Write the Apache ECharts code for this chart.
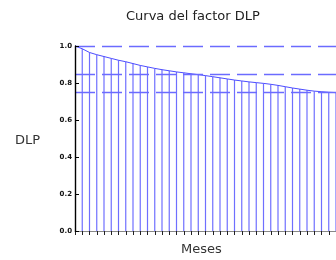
<!DOCTYPE html>
<html>
<head>
<meta charset="utf-8">
<script src="https://cdn.jsdelivr.net/npm/echarts@6/dist/echarts.min.js"></script>
<style>
  html, body { margin: 0; padding: 0; background: #fff; }
  #chart { width: 336px; height: 260px; }
</style>
</head>
<body>
<div id="chart"></div>
<script>
  // meses 0..36 y factor DLP
  var meses = [0, 1, 2, 3, 4, 5, 6, 7, 8, 9, 10, 11, 12, 13, 14, 15, 16, 17, 18,
    19, 20, 21, 22, 23, 24, 25, 26, 27, 28, 29, 30, 31, 32, 33, 34, 35, 36];
  var factorDLP = [1.0, 0.985, 0.965, 0.953, 0.943, 0.933, 0.923, 0.915, 0.905,
    0.895, 0.887, 0.879, 0.872, 0.866, 0.86, 0.855, 0.85, 0.845, 0.84, 0.834,
    0.828, 0.822, 0.816, 0.811, 0.806, 0.802, 0.798, 0.793, 0.787, 0.78, 0.773,
    0.767, 0.761, 0.756, 0.753, 0.75, 0.748];
  var limites = [1.0, 0.85, 0.75];
  var yTicks = [0, 0.2, 0.4, 0.6, 0.8, 1.0];

  var pares = meses.map(function (m, i) { return [m, factorDLP[i]]; });
  var font = 'DejaVu Sans';

  var myChart = echarts.init(document.getElementById('chart'));
  var option = {
    animation: false,
    title: {
      text: 'Curva del factor DLP',
      left: 126,
      top: 10,
      padding: 0,
      textStyle: { fontFamily: font, fontSize: 13, fontWeight: 'normal', color: '#222' }
    },
    graphic: [
      { type: 'text', left: 15, top: 134,
        style: { text: 'DLP', font: '13px "DejaVu Sans"', fill: '#333' } },
      { type: 'text', left: 181, top: 243,
        style: { text: 'Meses', font: '13px "DejaVu Sans"', fill: '#333' } }
    ],
    grid: { left: 75, top: 46, width: 270, height: 185 },
    xAxis: {
      type: 'value',
      min: 0,
      max: 36,
      interval: 1,
      axisLine: { show: true, lineStyle: { color: '#888', width: 1 } },
      axisTick: { show: true, length: 4, lineStyle: { color: '#222' } },
      axisLabel: { show: false },
      splitLine: { show: false }
    },
    yAxis: {
      type: 'value',
      min: yTicks[0],
      max: yTicks[yTicks.length - 1],
      interval: 0.2,
      z: 5,
      axisLine: { show: true, lineStyle: { color: '#000', width: 1.4 } },
      axisTick: { show: true, inside: true, length: 4, lineStyle: { color: '#000' } },
      axisLabel: {
        margin: 3,
        fontFamily: font,
        fontSize: 7,
        fontWeight: 'bold',
        color: '#111',
        formatter: function (v) { return v.toFixed(1); }
      },
      splitLine: { show: false }
    },
    series: [
      {
        type: 'bar',
        data: pares.slice(1),
        barWidth: 1.2,
        itemStyle: { color: '#6f6fff' },
        silent: true
      },
      {
        type: 'line',
        data: pares,
        symbol: 'none',
        lineStyle: { color: '#4d4dff', width: 1 },
        silent: true,
        markLine: {
          symbol: 'none',
          silent: true,
          label: { show: false },
          lineStyle: { color: '#6b6bff', type: [20, 7], width: 1.4 },
          data: limites.map(function (v) { return { yAxis: v }; })
        }
      }
    ]
  };
  myChart.setOption(option);
</script>
</body>
</html>
